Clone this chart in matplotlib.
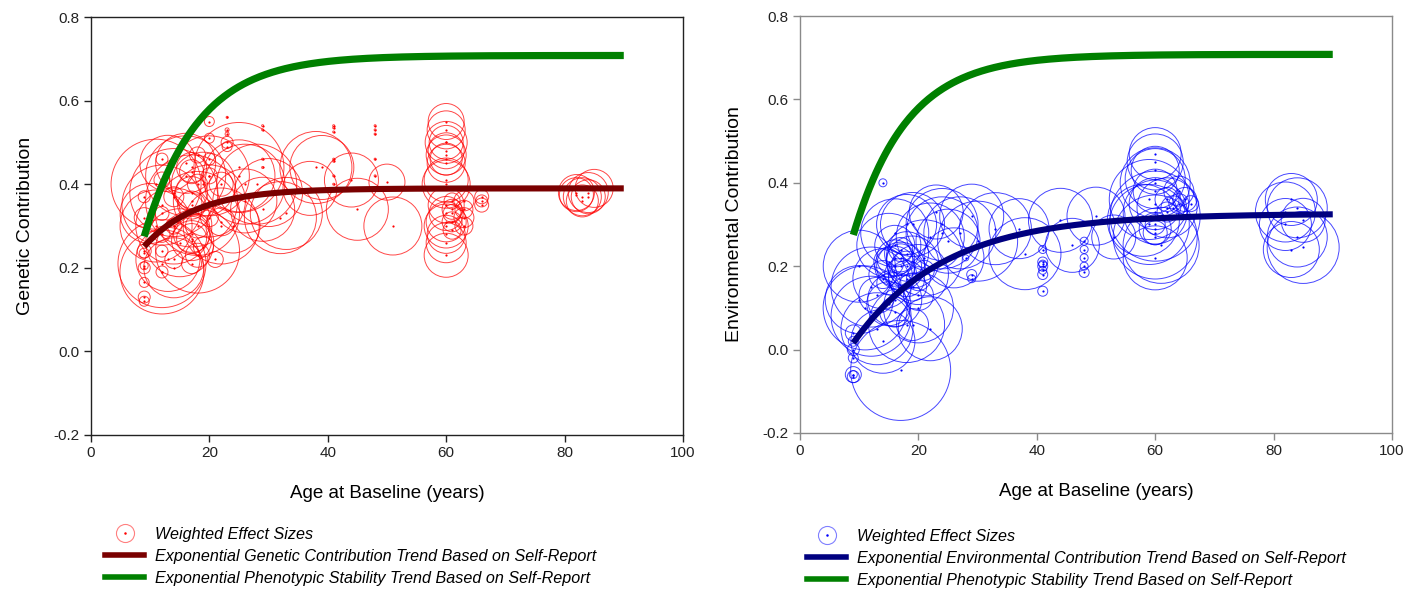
import numpy as np
import matplotlib
matplotlib.use("Agg")
import matplotlib.pyplot as plt
from matplotlib.lines import Line2D
from matplotlib.legend_handler import HandlerTuple

plt.rcParams['font.family'] = ['Liberation Sans', 'DejaVu Sans']

# ---- Genetic contribution: study age, effect size, relative weight ----
gen_age = [9, 9, 9, 9, 9, 9, 9, 9, 9,
           11, 12, 12, 13, 10, 14, 15, 13, 16, 17, 18, 19, 20, 14,
           12, 18, 25, 26, 33, 39, 11, 16, 22, 30, 20, 14,
           12, 12, 12, 12, 12, 12, 14, 14, 14,
           17, 17, 17, 17, 17, 17, 17, 18, 18, 18, 18, 17,
           20, 20, 20, 20, 20, 19, 21,
           23, 23, 23, 23, 23, 22, 22,
           25, 26, 28, 29, 32, 24, 29, 29, 29, 29,
           38, 37,
           41, 41, 41, 41, 41, 41, 41,
           44, 45, 50, 51,
           48, 48, 48, 48, 48,
           60, 60, 60, 60, 60, 60, 60, 60, 60, 60, 60, 60, 60, 60, 60, 60, 60,
           61, 61, 61, 61, 61,
           63, 63, 63, 63,
           66, 66, 66,
           82, 82, 83, 84, 84, 85, 83]
gen_val = [0.12, 0.13, 0.165, 0.20, 0.205, 0.235, 0.24, 0.37, 0.32,
           0.40, 0.35, 0.19, 0.22, 0.33, 0.30, 0.26, 0.45, 0.42, 0.36, 0.33, 0.40, 0.36, 0.20,
           0.21, 0.24, 0.44, 0.40, 0.33, 0.44, 0.30, 0.45, 0.30, 0.38, 0.42, 0.38,
           0.46, 0.33, 0.24, 0.19, 0.41, 0.28, 0.30, 0.37, 0.22,
           0.44, 0.43, 0.38, 0.35, 0.28, 0.27, 0.265, 0.30, 0.40, 0.47, 0.23, 0.21,
           0.55, 0.51, 0.46, 0.42, 0.32, 0.25, 0.22,
           0.56, 0.53, 0.52, 0.50, 0.49, 0.40, 0.31,
           0.42, 0.36, 0.40, 0.34, 0.32, 0.30, 0.54, 0.53, 0.46, 0.44,
           0.44, 0.39,
           0.54, 0.535, 0.525, 0.46, 0.455, 0.42, 0.40,
           0.41, 0.34, 0.405, 0.30,
           0.54, 0.53, 0.52, 0.46, 0.42,
           0.55, 0.53, 0.50, 0.48, 0.47, 0.46, 0.45, 0.41, 0.35, 0.33, 0.31, 0.30, 0.28, 0.26, 0.23, 0.50, 0.40,
           0.34, 0.33, 0.31, 0.29, 0.36,
           0.36, 0.34, 0.32, 0.30,
           0.37, 0.36, 0.35,
           0.38, 0.375, 0.37, 0.38, 0.37, 0.39, 0.36]
gen_wt = [5, 6, 5, 6, 4, 5, 7, 6, 10,
          45, 40, 42, 32, 30, 38, 34, 28, 40, 46, 42, 32, 36, 30,
          44, 42, 45, 40, 36, 32, 36, 30, 38, 34, 40, 44,
          6, 7, 6, 6, 8, 8, 8, 10, 9,
          15, 12, 16, 14, 18, 15, 20, 12, 10, 8, 12, 10,
          5, 5, 6, 8, 9, 10, 8,
          1, 2, 2, 6, 5, 12, 14,
          36, 32, 40, 32, 36, 27, 1, 1, 1, 1,
          36, 27,
          1, 1, 1, 1, 1, 1, 1,
          27, 31, 18, 29,
          1, 1, 1, 1, 1,
          18, 19, 17, 18, 20, 16, 19, 22, 18, 17, 20, 22, 19, 20, 22, 21, 24,
          10, 9, 10, 9, 8,
          10, 9, 10, 9,
          7, 6, 7,
          18, 17, 19, 20, 17, 19, 16]

# ---- Environmental contribution ----
env_age = [9, 9, 9, 9, 9, 9, 9,
           14,
           10, 11, 12, 13, 17, 15, 14, 18, 20, 22, 16, 19,
           12, 10, 18, 21, 24, 16, 14, 20,
           15, 16, 16, 17, 17, 18, 18, 17, 19, 20, 20, 21, 15, 14, 16, 19, 13, 17, 18, 16, 19, 15,
           24, 25, 27, 29, 30, 23, 26, 33, 22,
           29, 29, 28,
           38, 37,
           41, 41, 41, 41, 41, 41, 41,
           44, 46, 50, 53,
           48, 48, 48, 48, 48,
           60, 60, 60, 60, 60, 60, 59, 60, 60, 60, 59, 60, 60, 60, 60, 61, 60, 58, 62,
           62, 63, 64, 65, 66, 62, 64,
           82, 83, 84, 82, 84, 83, 85, 85]
env_val = [-0.06, -0.065, -0.06, 0.00, 0.02, -0.02, 0.04,
           0.40,
           0.20, 0.10, 0.15, 0.05, -0.05, 0.25, 0.02, 0.30, 0.10, 0.05, 0.12, 0.30,
           0.08, 0.12, 0.06, 0.22, 0.28, 0.28, 0.17, 0.18,
           0.21, 0.22, 0.20, 0.18, 0.22, 0.20, 0.17, 0.24, 0.15, 0.17, 0.13, 0.19, 0.16, 0.18, 0.09, 0.06, 0.13,
           0.20, 0.23, 0.25, 0.21, 0.11,
           0.30, 0.26, 0.28, 0.32, 0.26, 0.33, 0.22, 0.29, 0.27,
           0.18, 0.17, 0.22,
           0.23, 0.29,
           0.21, 0.205, 0.20, 0.19, 0.18, 0.14, 0.24,
           0.31, 0.25, 0.32, 0.27,
           0.26, 0.24, 0.22, 0.20, 0.185,
           0.47, 0.45, 0.43, 0.41, 0.40, 0.38, 0.36, 0.35, 0.33, 0.32, 0.30, 0.29, 0.28, 0.30, 0.27, 0.25, 0.22, 0.31, 0.34,
           0.36, 0.34, 0.35, 0.36, 0.35, 0.33, 0.38,
           0.33, 0.36, 0.34, 0.30, 0.27, 0.24, 0.31, 0.245]
env_wt = [8, 6, 4, 6, 5, 5, 8,
          4,
          36, 42, 40, 36, 50, 32, 32, 30, 35, 32, 27, 32,
          40, 34, 38, 38, 36, 34, 30, 30,
          15, 18, 20, 16, 14, 15, 18, 12, 14, 12, 15, 10, 12, 14, 15, 16, 18, 24, 22, 20, 26, 22,
          36, 32, 36, 32, 40, 27, 30, 36, 34,
          5, 4, 3,
          36, 30,
          5, 4, 5, 4, 5, 5, 4,
          32, 27, 29, 22,
          4, 4, 4, 4, 5,
          26, 28, 24, 30, 35, 22, 40, 26, 32, 45, 40, 16, 12, 10, 42, 38, 32, 36, 30,
          12, 12, 10, 12, 8, 10, 15,
          30, 26, 30, 26, 30, 28, 22, 36]

# ---- Exponential trends: (value at age 9, asymptote, rate) ----
stability_trend = (0.275, 0.708, 0.11)
genetic_trend = (0.251, 0.390, 0.115)
environmental_trend = (0.016, 0.326, 0.065)
trend_ages = (9, 90)

x_ticks = [0, 20, 40, 60, 80, 100]
y_ticks = [-0.2, 0.0, 0.2, 0.4, 0.6, 0.8]

GREEN = '#008000'
MAROON = '#7a0000'
NAVY = '#000080'


def trend_curve(params):
    start, top, rate = params
    a = np.linspace(trend_ages[0], trend_ages[1], 300)
    return a, top - (top - start) * np.exp(-rate * (a - trend_ages[0]))


def marker_area(w):
    # weight -> marker diameter in points
    d = 2 * np.asarray(w, float) * 0.72
    return d ** 2


fig = plt.figure(figsize=(14.12, 5.89), dpi=100)
ax1 = fig.add_axes([0.0644, 0.2615, 0.4193, 0.7096])
ax2 = fig.add_axes([0.5666, 0.2649, 0.4192, 0.7079])


def draw_panel(ax, ages, vals, wts, color, trend, trend_color, ylabel, trend_label, frame):
    ax.scatter(ages, vals, s=marker_area(wts), facecolors='none',
               edgecolors=color, linewidths=0.7, alpha=0.72, zorder=2)
    ax.scatter(ages, vals, s=2.5, color=color, linewidths=0, zorder=2)
    a, v = trend_curve(stability_trend)
    ax.plot(a, v, color=GREEN, lw=5.2, solid_capstyle='butt', zorder=4)
    a, v = trend_curve(trend)
    ax.plot(a, v, color=trend_color, lw=4.4, solid_capstyle='butt', zorder=3)

    ax.set_xlim(0, 100)
    ax.set_ylim(-0.2, 0.8)
    ax.set_xticks(x_ticks)
    ax.set_yticks(y_ticks)
    ax.set_yticklabels([f'{t:.1f}' for t in y_ticks])
    ax.tick_params(direction='out', length=5, width=1, labelsize=11, color=frame,
                   labelcolor='#222222', pad=3)
    for sp in ax.spines.values():
        sp.set_color(frame)
        sp.set_linewidth(1)
    ax.set_xlabel('Age at Baseline (years)', fontsize=13.5, labelpad=18)
    ax.set_ylabel(ylabel, fontsize=14, labelpad=14)

    circ = Line2D([], [], ls='none', marker='o', ms=13, mfc='none', mec=color,
                  mew=0.8, alpha=0.5)
    dot = Line2D([], [], ls='none', marker='o', ms=1.8, mfc=color, mec='none')
    trend_h = Line2D([], [], color=trend_color, lw=4)
    stab_h = Line2D([], [], color=GREEN, lw=4)
    return [(circ, dot), trend_h, stab_h], ['Weighted Effect Sizes', trend_label,
                                            'Exponential Phenotypic Stability Trend Based on Self-Report']


h1, l1 = draw_panel(ax1, gen_age, gen_val, gen_wt, 'red', genetic_trend, MAROON,
                    'Genetic Contribution',
                    'Exponential Genetic Contribution Trend Based on Self-Report', '#222222')
h2, l2 = draw_panel(ax2, env_age, env_val, env_wt, 'blue', environmental_trend, NAVY,
                    'Environmental Contribution',
                    'Exponential Environmental Contribution Trend Based on Self-Report', '#8a8a8a')

leg_kw = dict(loc='upper left', frameon=False, handlelength=2.45, handletextpad=0.65,
              labelspacing=0.42, borderaxespad=0, borderpad=0,
              handler_map={tuple: HandlerTuple(ndivide=1, pad=0)},
              prop={'style': 'italic', 'size': 11.6})
fig.legend(h1, l1, bbox_to_anchor=(105 / 1412, 1 - 527 / 589), **leg_kw)
fig.legend(h2, l2, bbox_to_anchor=(807 / 1412, 1 - 529 / 589), **leg_kw)

fig.savefig('out.png', dpi=100, facecolor='white')
